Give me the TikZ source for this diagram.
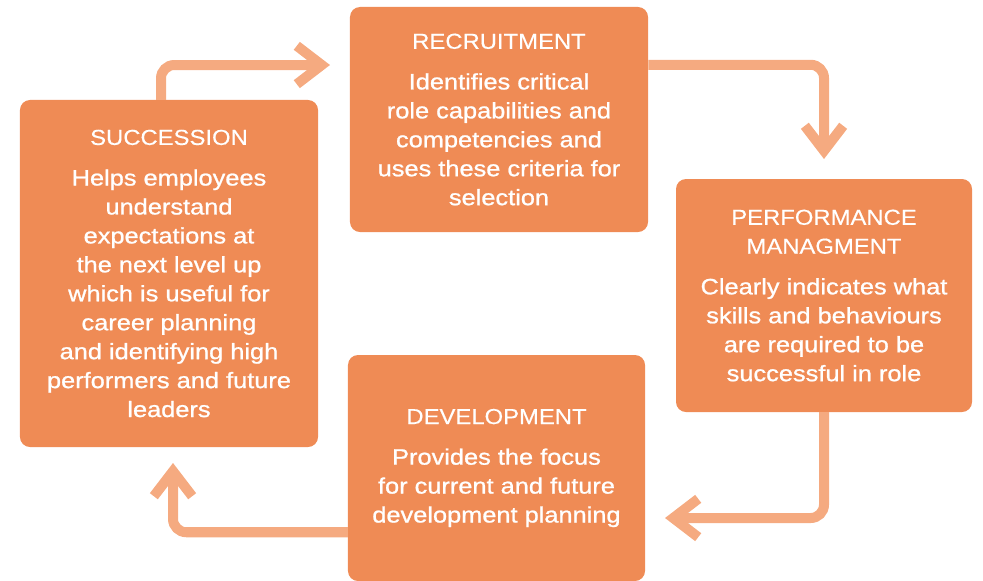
\documentclass[tikz,border=0pt]{standalone}
\usepackage{fontspec}
\setmainfont[FakeStretch=1.1,FakeBold=0.3]{Liberation Sans}
\newfontfamily\bodyfont[FakeStretch=1.14,FakeBold=1.0]{Liberation Sans}
\usetikzlibrary{calc, arrows.meta}

\definecolor{boxorange}{RGB}{239,139,85}
\definecolor{arroworange}{RGB}{245,170,128}

\newcommand{\stagehead}[1]{{\rmfamily\fontsize{18.5}{24.7}\selectfont #1}}

\tikzset{
	stage/.style={fill=boxorange, rounded corners=0.3cm, text=white, align=center,
		inner sep=0pt, font=\bodyfont\fontsize{19}{24.7}\selectfont},
	flow/.style={draw=arroworange, line width=0.3cm, rounded corners=0.4cm,
		-{Straight Barb[length=0.75cm, width=1.15cm]}}
}

\begin{document}
\begin{tikzpicture}[x=0.03cm, y=-0.03cm]

		\useasboundingbox (0,0) rectangle (983,580);

		\node[stage, minimum width=8.94cm, minimum height=6.75cm] (recr) at (499,119.5)
			{\stagehead{RECRUITMENT}\\[0.35cm]
			Identifies critical\\ role capabilities and\\ competencies and\\
			uses these criteria for\\ selection};
		\node[stage, minimum width=8.94cm, minimum height=10.41cm] (succ) at (169,273.5)
			{\stagehead{SUCCESSION}\\[0.35cm]
			Helps employees\\ understand\\ expectations at\\ the next level up\\
			which is useful for\\ career planning\\ and identifying high\\
			performers and future\\ leaders};
		\node[stage, minimum width=8.88cm, minimum height=6.99cm] (perf) at (824,295.5)
			{\stagehead{PERFORMANCE}\\ \stagehead{MANAGMENT}\\[0.35cm]
			Clearly indicates what\\ skills and behaviours\\ are required to be\\
			successful in role};
		\node[stage, minimum width=8.91cm, minimum height=6.78cm] (dev) at (496.5,468)
			{\stagehead{DEVELOPMENT}\\[0.35cm]
			Provides the focus\\ for current and future\\ development planning};

		\coordinate (T1) at (330,65);
		\coordinate (T2) at (824,159);
		\coordinate (T3) at (665,518);
		\coordinate (T4) at (173,463);

		\draw[flow] ($(succ.north)+(-8,0)$) |- (T1);
		\draw[flow] ($(recr.north east)+(0,58)$) -| (T2);
		\draw[flow] (perf.south) |- (T3);
		\draw[flow] ($(dev.south west)+(0,-49)$) -| (T4);

	\end{tikzpicture}
\end{document}
